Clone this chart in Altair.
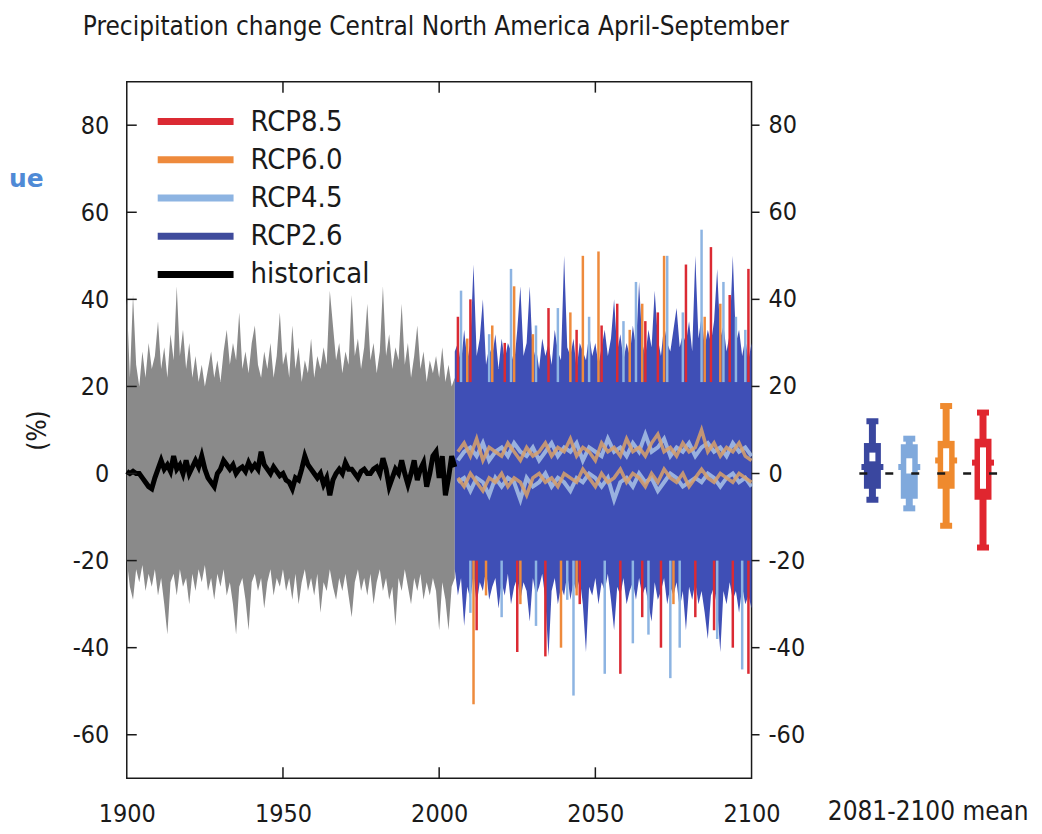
import altair as alt
import pandas as pd

FONT = "Liberation Sans Narrow, DejaVu Sans Condensed, Liberation Sans, sans-serif"
TITLE = "Precipitation change Central North America April-September"
FRAGMENT = "ue"
INK = "#1a1a1a"

# ---------------- historical period (1900-2005) ----------------
hist_years = list(range(1900, 2006))
gray_hi = [40, 22, 41, 25, 20, 28, 22, 30, 24, 27,
           35, 24, 29, 22, 32, 26, 43, 27, 33, 24,
           30, 22, 27, 21, 25, 20, 24, 28, 22, 26,
           21, 28, 33, 25, 30, 26, 37, 24, 28, 23,
           30, 34, 25, 22, 28, 24, 30, 22, 27, 37,
           25, 28, 22, 34, 24, 29, 21, 26, 23, 31,
           22, 27, 24, 29, 25, 42, 34, 26, 30, 23,
           28, 25, 41, 27, 31, 24, 29, 39, 26, 30,
           23, 28, 43, 27, 32, 24, 29, 26, 39, 25,
           30, 22, 27, 34, 24, 28, 21, 26, 23, 27,
           22, 29, 21, 25, 20, 22]
gray_lo = [-20, -26, -29, -22, -25, -21, -27, -23, -26, -22,
           -28, -24, -30, -37, -25, -23, -28, -22, -26, -24,
           -30, -23, -27, -22, -25, -21, -27, -24, -29, -23,
           -26, -22, -28, -25, -30, -37, -26, -24, -29, -36,
           -25, -23, -27, -24, -31, -25, -22, -28, -24, -26,
           -22, -27, -24, -29, -23, -30, -25, -22, -27, -24,
           -28, -23, -32, -25, -27, -22, -26, -29, -24, -27,
           -23, -28, -33, -25, -22, -27, -24, -28, -23, -30,
           -25, -22, -27, -24, -29, -26, -35, -24, -27, -22,
           -26, -30, -24, -27, -23, -29, -25, -28, -24, -27,
           -36, -25, -29, -36, -26, -24]
hist_mean = [0.5, 0, 0.5, 0, 0, -1, -2, -3, -3.5, -1,
             1, 3, 1, 2, 0.5, 4, 1, 2, 0, 3,
             0, 1.5, 3, 1.5, 4, 1, -1, -2, -3, 0,
             1, 3, 2, 1, 2, 0, 1, 1.5, 0.5, 2.5,
             1, 2, 1, 5, 2, 1, 0, 1.5, 0.5, -0.5,
             0, -1.5, -2, -3.5, -1, -1.5, 1, 4, 2, 1,
             0, -1, 0, -2.5, -1, -5, -1.5, 0, 1, 0,
             2.5, 1, 1, 0, -1, 0.5, 1, 0, 0, 1,
             1.5, 0, 3.5, 1, -3, -1, 1, 0, 3, 0,
             -2.5, 0, 3, -1.5, 1, 2.5, -3, 0, 4, 5,
             -1, 4, -5, -1, 4, 1.5]

# ---------------- projections (2005-2100) ----------------
proj_years = list(range(2005, 2101))
blue_hi = [28, 30, 25, 33, 26,
           30, 48, 27, 31, 40, 25, 29, 27, 32, 24,
           31, 26, 30, 28, 25, 33, 43, 27, 30, 43,
           26, 29, 24, 31, 27, 30, 25, 33, 28, 26,
           50, 29, 27, 31, 24, 30, 28, 26, 32, 27,
           30, 25, 29, 33, 27, 31, 40, 28, 32, 26,
           30, 27, 34, 29, 44, 30, 27, 33, 29, 42,
           31, 27, 34, 30, 28, 33, 38, 29, 32, 30,
           35, 28, 50, 31, 36, 29, 33, 30, 35, 47,
           31, 34, 28, 32, 50, 30, 33, 27, 31, 26,
           30]
blue_lo = [-22, -28, -24, -35, -26,
           -29, -23, -30, -25, -27, -22, -29, -26, -24, -31,
           -25, -28, -23, -30, -26, -24, -29, -25, -27, -34,
           -24, -28, -26, -23, -29, -42, -27, -24, -30, -26,
           -28, -23, -29, -25, -27, -24, -30, -41, -26, -28,
           -24, -30, -25, -27, -23, -29, -36, -26, -28, -24,
           -30, -27, -25, -29, -24, -28, -26, -30, -34, -25,
           -29, -27, -24, -30, -26, -28, -25, -31, -27, -36,
           -26, -29, -25, -30, -27, -32, -38, -28, -26, -31,
           -41, -27, -30, -25, -29, -27, -32, -26, -30, -28,
           -31]

mean_years = list(range(2006, 2101, 2))
upper_orange = [5, 7, 4, 8, 3, 6, 5, 4, 7, 5, 3, 6, 4, 5, 7, 4, 6, 5, 8, 4, 6, 5, 3, 7,
                5, 6, 4, 8, 5, 6, 4, 7, 9, 5, 6, 4, 7, 5, 6, 10, 5, 7, 4, 6, 5, 7, 4, 3]
upper_lblue = [3, 5, 6, 4, 7, 3, 5, 6, 4, 7, 5, 4, 6, 3, 5, 7, 4, 6, 5, 7, 3, 6, 5, 4,
               8, 5, 6, 4, 7, 5, 9, 5, 6, 8, 4, 6, 5, 7, 4, 6, 7, 5, 6, 4, 7, 5, 6, 4]
lower_orange = [-1, -3, 0, -2, -4, -1, -2, 0, -3, -1, -2, -5, -1, 0, -2, -1, -3, 0, -1, -2, 1, -1, -3, 0,
                -2, -1, 1, -2, 0, -1, -3, 0, -2, 1, -1, -2, 0, -3, -1, 1, -1, -2, 0, -1, -2, 0, -1, -2]
lower_lblue = [-2, -1, -4, -1, -2, -5, -1, -3, -1, -2, -6, -1, -3, -2, 0, -3, -1, -2, -4, -1, -2, 0, -1, -3,
               -1, -6, -2, -1, -3, 0, -2, -1, -4, -2, 0, -1, -3, -2, -1, -2, 0, -1, -3, -1, 0, -2, -1, -3]

# individual-run extremes poking out of the ensemble (year, value, scenario)
up_year = [2007, 2023, 2038, 2063, 2073, 2084, 2091, 2098, 2016, 2031, 2048, 2059, 2078, 2095,
           2006, 2010, 2035, 2057, 2079, 2087, 2093, 2099, 2021, 2044, 2052, 2066, 2070,
           2009, 2017, 2024, 2042, 2046, 2051, 2065, 2072, 2090, 2030, 2061, 2085]
up_val = [42, 47, 38, 44, 50, 56, 44, 33, 32, 34, 36, 35, 37, 36,
          36, 40, 38, 39, 48, 52, 41, 47, 30, 33, 34, 35, 37,
          31, 34, 43, 37, 50, 51, 39, 50, 39, 32, 33, 36]
up_scn = ["RCP4.5"] * 14 + ["RCP8.5"] * 13 + ["RCP6.0"] * 12

dn_year = [2010, 2041, 2043, 2053, 2062, 2074, 2077, 2097, 2020, 2031, 2067, 2089,
           2012, 2025, 2034, 2045, 2058, 2065, 2071, 2082, 2088, 2094, 2099,
           2011, 2015, 2026, 2039, 2044, 2075]
dn_val = [-32, -29, -51, -46, -39, -47, -40, -45, -33, -35, -37, -38,
          -36, -41, -42, -30, -46, -33, -40, -33, -36, -40, -46,
          -53, -28, -30, -40, -28, -30]
dn_scn = ["RCP4.5"] * 12 + ["RCP8.5"] * 11 + ["RCP6.0"] * 6

scenarios = ["RCP8.5", "RCP6.0", "RCP4.5", "RCP2.6", "historical"]
scen_colors = ["#db2a33", "#ee8a3c", "#8db4e2", "#3f4b9c", "#000000"]

# ---------------- 2081-2100 mean boxes ----------------
box_scn = ["RCP2.6", "RCP4.5", "RCP6.0", "RCP8.5"]
box_lo = [-6, -8, -12, -17]
box_hi = [12, 8, 15.5, 14]
box_q1 = [-3.5, -5.8, -3.5, -6]
box_q3 = [7, 6.7, 7.5, 8]
box_w1 = [2.8, 0, 0.5, -3.5]
box_w2 = [4.8, 3.5, 5.8, 6]
box_med = [1.5, 1.5, 3, 2.5]
box_colors = ["#3a479f", "#80a9dc", "#ef8a2e", "#e0262f"]

y_ticks = [-60, -40, -20, 0, 20, 40, 60, 80]
y_tick_labels = ["-60", "-40", "-20", "0", "20", "40", "60", "80"]
x_ticks = [1900, 1950, 2000, 2050, 2100]
inner_x_ticks = [1950, 2000, 2050]

# ---------------- tables ----------------
assert len(gray_hi) == len(gray_lo) == len(hist_mean) == len(hist_years)
assert len(blue_hi) == len(blue_lo) == len(proj_years)
assert len(up_year) == len(up_val) == len(up_scn)
assert len(dn_year) == len(dn_val) == len(dn_scn)

hist_df = pd.DataFrame({"year": hist_years, "hi": gray_hi, "lo": gray_lo, "mean": hist_mean})
proj_df = pd.DataFrame({"year": proj_years, "hi": blue_hi, "lo": blue_lo})
mean_df = pd.DataFrame({"year": mean_years, "uo": upper_orange, "ub": upper_lblue,
                        "lo_": lower_orange, "lb": lower_lblue})
up_df = pd.DataFrame({"year": up_year, "v": up_val, "scenario": up_scn})
dn_df = pd.DataFrame({"year": dn_year, "v": dn_val, "scenario": dn_scn})
ytick_df = pd.DataFrame({"v": y_ticks, "lab": y_tick_labels})
xtick_df = pd.DataFrame({"year": inner_x_ticks})
box_df = pd.DataFrame({"cat": box_scn, "lo": box_lo, "hi": box_hi, "q1": box_q1, "q3": box_q3,
                       "w1": box_w1, "w2": box_w2, "med": box_med})

W, H = 626, 698
xs = alt.Scale(domain=[1900, 2100], nice=False, zero=False)
ys = alt.Scale(domain=[-70, 90], nice=False, zero=False)

x_axis = alt.Axis(values=x_ticks, format="d", ticks=False, domain=False, grid=False,
                  labelFlush=False, labelFontSize=25, labelPadding=23, labelColor=INK,
                  title=None)
y_axis = alt.Axis(orient="left", values=y_ticks, ticks=False, domain=False, grid=False,
                  labelFontSize=25, labelPadding=18, labelColor=INK,
                  labelExpr="replace(datum.label, '\u2212', '-')",
                  title="(%)", titleFontSize=26, titleFontWeight="normal",
                  titlePadding=22, titleColor=INK)


def X(field="year"):
    return alt.X(f"{field}:Q", scale=xs, axis=x_axis)


def Y(field):
    return alt.Y(f"{field}:Q", scale=ys, axis=y_axis)


scen_color = alt.Color("scenario:N", scale=alt.Scale(domain=scenarios, range=scen_colors),
                       legend=None)

gray = alt.Chart(hist_df).mark_area(color="#8a8a8a").encode(x=X(), y=Y("lo"), y2="hi:Q")
blue = alt.Chart(proj_df).mark_area(color="#3f4fb6").encode(x=X(), y=Y("lo"), y2="hi:Q")

spikes_up = alt.Chart(up_df).mark_rule(strokeWidth=2.5).encode(
    x=X(), y=Y("v"), y2=alt.datum(21), color=scen_color)
spikes_dn = alt.Chart(dn_df).mark_rule(strokeWidth=2.5).encode(
    x=X(), y=Y("v"), y2=alt.datum(-20), color=scen_color)


def mean_line(field, col, w):
    return alt.Chart(mean_df).mark_line(color=col, strokeWidth=w, opacity=0.85).encode(
        x=X(), y=Y(field))


means = [mean_line("ub", "#a9c2e6", 4), mean_line("uo", "#d9a16a", 3.5),
         mean_line("lb", "#a9c2e6", 4), mean_line("lo_", "#d9a16a", 3.5)]

hist_line = alt.Chart(hist_df).mark_line(color="#000000", strokeWidth=5).encode(
    x=X(), y=Y("mean"))

# frame ticks (inward on left/top/bottom, outward on right) and right-hand labels
left_ticks = alt.Chart(ytick_df).mark_rule(color=INK, strokeWidth=1.5).encode(
    x=alt.value(0), x2=alt.value(10), y=Y("v"))
right_ticks = alt.Chart(ytick_df).mark_rule(color=INK, strokeWidth=1.5).encode(
    x=alt.value(W), x2=alt.value(W + 8), y=Y("v"))
right_labels = alt.Chart(ytick_df).mark_text(
    align="left", baseline="middle", fontSize=25, color=INK).encode(
    x=alt.value(W + 17), y=Y("v"), text="lab:N")
top_ticks = alt.Chart(xtick_df).mark_rule(color=INK, strokeWidth=1.5).encode(
    x=X(), y=alt.value(0), y2=alt.value(11))
bottom_ticks = alt.Chart(xtick_df).mark_rule(color=INK, strokeWidth=1.5).encode(
    x=X(), y=alt.value(H), y2=alt.value(H - 11))

title_txt = alt.Chart(pd.DataFrame({"t": [TITLE]})).mark_text(
    align="left", baseline="alphabetic", fontSize=26, color=INK).encode(
    text="t:N", x=alt.value(-44), y=alt.value(-47))
frag_txt = alt.Chart(pd.DataFrame({"t": [FRAGMENT]})).mark_text(
    align="left", baseline="alphabetic", fontSize=25, fontWeight="bold", color="#4f8ad6",
    font="DejaVu Sans").encode(text="t:N", x=alt.value(-118), y=alt.value(106))

# legend drawn inside the frame
legend_layers = []
for i, (name, col) in enumerate(zip(scenarios, scen_colors)):
    ldf = pd.DataFrame({"name": [name]})
    legend_layers.append(alt.Chart(ldf).mark_rule(color=col, strokeWidth=7).encode(
        x=alt.value(31), x2=alt.value(107), y=alt.value(40 + 38.3 * i)))
    legend_layers.append(alt.Chart(ldf).mark_text(
        align="left", baseline="middle", fontSize=29, color=INK).encode(
        text="name:N", x=alt.value(124), y=alt.value(40 + 38.3 * i)))

main = alt.layer(
    gray, blue, spikes_up, spikes_dn, *means, hist_line,
    left_ticks, right_ticks, right_labels, top_ticks, bottom_ticks,
    *legend_layers, title_txt, frag_txt,
).properties(width=W, height=H, view=alt.ViewBackground(stroke=INK, strokeWidth=1.5))

# ---------------- box panel ----------------
yb = alt.Scale(domain=[-70, 90], nice=False, zero=False)
xb = alt.X("cat:N", scale=alt.Scale(type="point", domain=box_scn, padding=0.95),
           axis=alt.Axis(labels=False, ticks=False, domain=False, grid=False,
                         title="2081-2100 mean", titleFontSize=26, titleFontWeight="normal",
                         titlePadding=20, titleColor=INK))
cb = alt.Color("cat:N", scale=alt.Scale(domain=box_scn, range=box_colors), legend=None)
bbase = alt.Chart(box_df)


def YB(field):
    return alt.Y(f"{field}:Q", scale=yb, axis=None)


whisk = bbase.mark_rule(strokeWidth=7).encode(x=xb, y=YB("lo"), y2="hi:Q", color=cb)
cap_lo = bbase.mark_tick(thickness=6, size=12, opacity=1).encode(x=xb, y=YB("lo"), color=cb)
cap_hi = bbase.mark_tick(thickness=6, size=12, opacity=1).encode(x=xb, y=YB("hi"), color=cb)
boxes = bbase.mark_bar(width=17).encode(x=xb, y=YB("q1"), y2="q3:Q", color=cb)
med = bbase.mark_tick(thickness=6, size=22, opacity=1).encode(x=xb, y=YB("med"), color=cb)
white = bbase.mark_bar(width=6, color="white").encode(x=xb, y=YB("w1"), y2="w2:Q")
zero = alt.Chart(pd.DataFrame({"z": [0]})).mark_rule(
    color=INK, strokeWidth=2.5, strokeDash=[8, 18]).encode(
    x=alt.value(22), x2=alt.value(162), y=YB("z"))

box_panel = alt.layer(whisk, cap_lo, cap_hi, boxes, med, white, zero).properties(
    width=181, height=H, view=alt.ViewBackground(stroke="transparent"))

chart = alt.hconcat(main, box_panel, spacing=20).resolve_scale(color="independent").properties(
    padding={"left": 0, "top": 4, "right": 5, "bottom": 0}
).configure(font=FONT).configure_axis(labelFont=FONT, titleFont=FONT).configure_text(font=FONT)

chart.save("out.html", embed_options={"renderer": "svg", "actions": False})
